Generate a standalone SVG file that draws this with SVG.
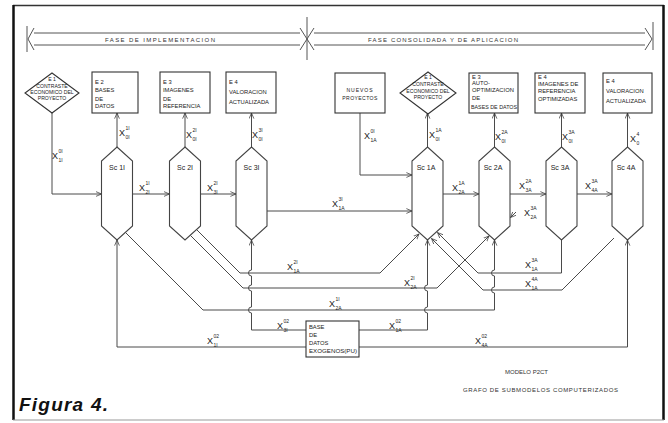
<svg xmlns="http://www.w3.org/2000/svg" width="668" height="423" viewBox="0 0 668 423">
<defs>
<marker id="ah" viewBox="0 0 8 8" refX="7.5" refY="4" markerWidth="6" markerHeight="6" orient="auto" markerUnits="userSpaceOnUse">
<path d="M0,0.8 L7.5,4 L0,7.2" fill="none" stroke="#3a3a3a" stroke-width="1"/>
</marker>
<style>
.ln{fill:none;stroke:#4a4a4a;stroke-width:1}
.fr{fill:none;stroke:#555;stroke-width:1}
.bx{fill:#fff;stroke:#333;stroke-width:1.1}
.hx{fill:#fff;stroke:#444;stroke-width:1.1}
.t{font-family:"Liberation Sans",Arial,sans-serif;font-size:5.8px;fill:#222}
.td{font-family:"Liberation Sans",Arial,sans-serif;font-size:5.1px;fill:#222;text-anchor:middle}
.sc{font-family:"Liberation Sans",Arial,sans-serif;font-size:7px;fill:#222;text-anchor:middle}
.x{font-family:"Liberation Sans",Arial,sans-serif;font-size:9px;fill:#222}
.s{font-family:"Liberation Sans",Arial,sans-serif;font-size:5px;fill:#222}
.ph{font-family:"Liberation Sans",Arial,sans-serif;font-size:6px;fill:#333}
</style>
</defs>
<rect width="668" height="423" fill="#fff"/>
<g id="frame">
<line x1="13" y1="5.5" x2="664" y2="5.5" stroke="#333" stroke-width="1.5"/>
<line x1="13.5" y1="5" x2="13.5" y2="420" stroke="#111" stroke-width="2.5"/>
<line x1="663.5" y1="5" x2="663.5" y2="420" stroke="#111" stroke-width="2.5"/>
<line x1="13" y1="420" x2="664" y2="420" stroke="#999" stroke-width="1"/>
</g>
<g id="phases">
<path class="fr" d="M34,33 H300 M34,45 H300 M34,28 L28,39 L34,50 M27,26 V52"/>
<path class="fr" d="M300,28 L307,39 L300,50 M314,28 L307,39 L314,50 M307,17 V60"/>
<path class="fr" d="M314,33 H645 M314,45 H645 M645,28 L652,39 L645,50 M653,22 V50"/>
<text class="ph" x="105" y="41.5" textLength="110" lengthAdjust="spacing">FASE DE IMPLEMENTACION</text>
<text class="ph" x="368" y="41.5" textLength="150" lengthAdjust="spacing">FASE CONSOLIDADA Y DE APLICACION</text>
</g>
<g id="connectors">
<path class="ln" marker-end="url(#ah)" d="M52,113 V194 H101.5"/>
<path class="ln" marker-end="url(#ah)" d="M117,147 V113"/>
<path class="ln" marker-end="url(#ah)" d="M185,147 V113"/>
<path class="ln" marker-end="url(#ah)" d="M251.5,147 V113"/>
<path class="ln" marker-end="url(#ah)" d="M132.5,194 H169.5"/>
<path class="ln" marker-end="url(#ah)" d="M200.5,194 H236"/>
<path class="ln" marker-end="url(#ah)" d="M267,211 H412"/>
<path class="ln" marker-end="url(#ah)" d="M360,113 V175 H412"/>
<path class="ln" marker-end="url(#ah)" d="M427.5,147 V113"/>
<path class="ln" marker-end="url(#ah)" d="M494.5,147 V113"/>
<path class="ln" marker-end="url(#ah)" d="M561.5,147 V113"/>
<path class="ln" marker-end="url(#ah)" d="M627.5,147 V113"/>
<path class="ln" marker-end="url(#ah)" d="M443,194 H479"/>
<path class="ln" marker-end="url(#ah)" d="M510,194 H546"/>
<path class="ln" marker-end="url(#ah)" d="M577,194 H612"/>
<path class="ln" marker-end="url(#ah)" d="M516,212 L510.5,217.5"/>
<path class="ln" marker-end="url(#ah)" d="M196.5,229.5 L240,273 H380 L419,234"/>
<path class="ln" marker-end="url(#ah)" d="M190.5,235.5 L243,288 H437 L489,236"/>
<path class="ln" marker-end="url(#ah)" d="M125.5,232.5 L203,310 H494.5 V293 a3,3 0 0 1 0,-6 V276 a3,3 0 0 1 0,-6 V240"/>
<path class="ln" marker-end="url(#ah)" d="M561.5,240 V273 H478 L437.5,232.5"/>
<path class="ln" marker-end="url(#ah)" d="M614,238 L562,290 H483 L431.5,238.5"/>
<path class="ln" marker-end="url(#ah)" d="M306,330 H251.5 V313 a3,3 0 0 1 0,-6 V291 a3,3 0 0 1 0,-6 V276 a3,3 0 0 1 0,-6 V240"/>
<path class="ln" marker-end="url(#ah)" d="M359,330 H427.5 V313 a3,3 0 0 1 0,-6 V291 a3,3 0 0 1 0,-6 V240"/>
<path class="ln" marker-end="url(#ah)" d="M306,347 H117 V240"/>
<path class="ln" marker-end="url(#ah)" d="M359,347 H627.5 V240"/>
</g>
<g id="labels">
<text class="x" x="52" y="159">X</text><text class="s" x="58.5" y="153">0I</text><text class="s" x="58.5" y="162">1I</text>
<text class="x" x="119" y="136">X</text><text class="s" x="125.5" y="130">1I</text><text class="s" x="125.5" y="139">0I</text>
<text class="x" x="186" y="138">X</text><text class="s" x="192.5" y="132">2I</text><text class="s" x="192.5" y="141">0I</text>
<text class="x" x="252" y="138">X</text><text class="s" x="258.5" y="132">3I</text><text class="s" x="258.5" y="141">0I</text>
<text class="x" x="139" y="191">X</text><text class="s" x="145.5" y="185">1I</text><text class="s" x="145.5" y="194">2I</text>
<text class="x" x="207" y="191">X</text><text class="s" x="213.5" y="185">2I</text><text class="s" x="213.5" y="194">3I</text>
<text class="x" x="364" y="139">X</text><text class="s" x="370.5" y="133">0I</text><text class="s" x="370.5" y="142">1A</text>
<text class="x" x="429" y="138">X</text><text class="s" x="435.5" y="132">1A</text><text class="s" x="435.5" y="141">0I</text>
<text class="x" x="495" y="140">X</text><text class="s" x="501.5" y="134">2A</text><text class="s" x="501.5" y="143">0I</text>
<text class="x" x="562" y="140">X</text><text class="s" x="568.5" y="134">3A</text><text class="s" x="568.5" y="143">0I</text>
<text class="x" x="630" y="142">X</text><text class="s" x="636.5" y="136">4</text><text class="s" x="636.5" y="145">0</text>
<text class="x" x="452" y="191">X</text><text class="s" x="458.5" y="185">1A</text><text class="s" x="458.5" y="194">2A</text>
<text class="x" x="519" y="189">X</text><text class="s" x="525.5" y="183">2A</text><text class="s" x="525.5" y="192">3A</text>
<text class="x" x="585" y="189">X</text><text class="s" x="591.5" y="183">3A</text><text class="s" x="591.5" y="192">4A</text>
<text class="x" x="524" y="216">X</text><text class="s" x="530.5" y="210">3A</text><text class="s" x="530.5" y="219">2A</text>
<text class="x" x="332" y="207">X</text><text class="s" x="338.5" y="201">3I</text><text class="s" x="338.5" y="210">1A</text>
<text class="x" x="287" y="270">X</text><text class="s" x="293.5" y="264">2I</text><text class="s" x="293.5" y="273">1A</text>
<text class="x" x="404" y="286">X</text><text class="s" x="410.5" y="280">2I</text><text class="s" x="410.5" y="289">2A</text>
<text class="x" x="329" y="307">X</text><text class="s" x="335.5" y="301">1I</text><text class="s" x="335.5" y="310">2A</text>
<text class="x" x="277" y="329">X</text><text class="s" x="283.5" y="323">02</text><text class="s" x="283.5" y="332">3I</text>
<text class="x" x="389" y="329">X</text><text class="s" x="395.5" y="323">02</text><text class="s" x="395.5" y="332">1A</text>
<text class="x" x="207" y="344">X</text><text class="s" x="213.5" y="338">02</text><text class="s" x="213.5" y="347">1I</text>
<text class="x" x="475" y="344">X</text><text class="s" x="481.5" y="338">02</text><text class="s" x="481.5" y="347">4A</text>
<text class="x" x="525" y="268">X</text><text class="s" x="531.5" y="262">3A</text><text class="s" x="531.5" y="271">1A</text>
<text class="x" x="525" y="287">X</text><text class="s" x="531.5" y="281">4A</text><text class="s" x="531.5" y="290">1A</text>
</g>
<g id="e1-impl"><polygon class="bx" points="52,73 79,93 52,113 25,93"/>
<text class="td" x="52" y="81">E 1</text><text class="td" x="52" y="87.5">CONTRASTE</text><text class="td" x="52" y="93.5">ECONOMICO DEL</text><text class="td" x="52" y="99.5">PROYECTO</text></g>
<g id="e2-impl"><rect class="bx" x="92" y="72" width="46" height="41"/>
<text class="t" x="95" y="84">E 2</text><text class="t" x="95" y="92">BASES</text><text class="t" x="95" y="101">DE</text><text class="t" x="95" y="107.5">DATOS</text></g>
<g id="e3-impl"><rect class="bx" x="160" y="72" width="50" height="41"/>
<text class="t" x="163" y="84">E 3</text><text class="t" x="163" y="92">IMAGENES</text><text class="t" x="163" y="101">DE</text><text class="t" x="163" y="107.5">REFERENCIA</text></g>
<g id="e4-impl"><rect class="bx" x="226" y="72" width="50" height="41"/>
<text class="t" x="229" y="84">E 4</text><text class="t" x="229" y="94">VALORACION</text><text class="t" x="229" y="104">ACTUALIZADA</text></g>
<g id="nuevos"><rect class="bx" x="335" y="73" width="50" height="40"/>
<text class="td" x="360" y="92" letter-spacing="0.9">NUEVOS</text><text class="td" x="360" y="100" letter-spacing="0.4">PROYECTOS</text></g>
<g id="e1-apl"><polygon class="bx" points="428,72 456,93 428,114 400,93"/>
<text class="td" x="428" y="79">E 1</text><text class="td" x="428" y="86">CONTRASTE</text><text class="td" x="428" y="92.5">ECONOMICO DEL</text><text class="td" x="428" y="99">PROYECTO</text></g>
<g id="e3-apl"><rect class="bx" x="469" y="73" width="49" height="40"/>
<text class="t" x="472" y="78.5">E 3</text><text class="t" x="472" y="85">AUTO-</text><text class="t" x="472" y="91.5">OPTIMIZACION</text><text class="t" x="472" y="99.5">DE</text><text class="t" x="471" y="108.5" textLength="46" lengthAdjust="spacingAndGlyphs">BASES DE DATOS</text></g>
<g id="e4-ref"><rect class="bx" x="535" y="73" width="50" height="40"/>
<text class="t" x="538" y="78.5">E 4</text><text class="t" x="538" y="85.5">IMAGENES DE</text><text class="t" x="538" y="92.5">REFERENCIA</text><text class="t" x="538" y="100.5">OPTIMIZADAS</text></g>
<g id="e4-apl"><rect class="bx" x="603" y="73" width="49" height="40"/>
<text class="t" x="606" y="82.5">E 4</text><text class="t" x="606" y="93">VALORACION</text><text class="t" x="606" y="103">ACTUALIZADA</text></g>
<g id="sc1i"><polygon class="hx" points="117,147 132.5,161 132.5,226 117,240 101.5,226 101.5,161"/><text class="sc" x="117" y="170">Sc 1I</text></g>
<g id="sc2i"><polygon class="hx" points="185,147 200.5,161 200.5,226 185,240 169.5,226 169.5,161"/><text class="sc" x="185" y="170">Sc 2I</text></g>
<g id="sc3i"><polygon class="hx" points="251.5,147 267,161 267,226 251.5,240 236,226 236,161"/><text class="sc" x="251.5" y="170">Sc 3I</text></g>
<g id="sc1a"><polygon class="hx" points="427.5,147 443,161 443,226 427.5,240 412,226 412,161"/><text class="sc" x="426" y="170">Sc 1A</text></g>
<g id="sc2a"><polygon class="hx" points="494.5,147 510,161 510,226 494.5,240 479,226 479,161"/><text class="sc" x="493" y="170">Sc 2A</text></g>
<g id="sc3a"><polygon class="hx" points="561.5,147 577,161 577,226 561.5,240 546,226 546,161"/><text class="sc" x="560" y="170">Sc 3A</text></g>
<g id="sc4a"><polygon class="hx" points="627.5,147 643,161 643,226 627.5,240 612,226 612,161"/><text class="sc" x="626" y="170">Sc 4A</text></g>
<g id="base-exogenos"><rect class="bx" x="306" y="321" width="53" height="36"/>
<text class="t" x="309" y="328.5">BASE</text><text class="t" x="309" y="336.5">DE</text><text class="t" x="309" y="344.5">DATOS</text><text class="t" x="309" y="353" textLength="48" lengthAdjust="spacingAndGlyphs">EXOGENOS(PU)</text></g>
<g id="captions">
<text class="ph" x="505" y="374" font-size="5.2" textLength="43" lengthAdjust="spacing">MODELO P2CT</text>
<text class="ph" x="463" y="392" font-size="5.2" textLength="155" lengthAdjust="spacing">GRAFO DE SUBMODELOS COMPUTERIZADOS</text>
<text x="19" y="411" font-family="Liberation Sans, Arial, sans-serif" font-size="19" font-weight="bold" font-style="italic" fill="#111" textLength="89" lengthAdjust="spacing">Figura 4.</text>
</g>
</svg>
